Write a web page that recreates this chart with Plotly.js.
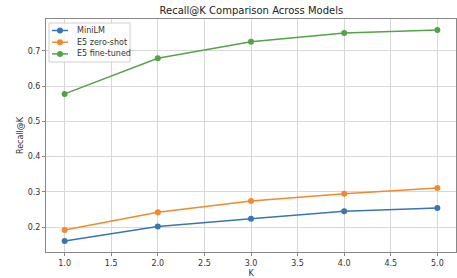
<!DOCTYPE html>
<html><head><meta charset="utf-8">
<script src="https://cdn.plot.ly/plotly-3.0.1.min.js"></script>
<style>html,body{margin:0;padding:0;background:#fff}#c{width:457px;height:278px}</style>
</head><body><div id="c"></div>
<script>
const K = [1, 2, 3, 4, 5];
const miniLM = [0.161, 0.202, 0.224, 0.245, 0.254];
const e5Zero = [0.192, 0.242, 0.274, 0.295, 0.311];
const e5Fine = [0.578, 0.679, 0.726, 0.751, 0.759];
const names = ["MiniLM", "E5 zero-shot", "E5 fine-tuned"];
const colors = ["#3a75b0", "#f08a2c", "#52a447"];
const series = [miniLM, e5Zero, e5Fine];
const traces = series.map((s, i) => ({
  x: K, y: s, name: names[i], type: "scatter", mode: "lines+markers",
  line: {color: colors[i], width: 1.5}, marker: {color: colors[i], size: 6}
}));
const W = 457, H = 278, M = {l: 46, r: 1, t: 19, b: 26};
const pw = W - M.l - M.r, ph = H - M.t - M.b;
const px = x => (x - M.l) / pw, py = y => 1 - (y - M.t) / ph;
const shapes = [{type: "rect", xref: "paper", yref: "paper", x0: px(49), x1: px(130), y0: py(23), y1: py(62),
  fillcolor: "rgba(255,255,255,0.85)", line: {color: "#d0d0d0", width: 1}}];
const annotations = [];
names.forEach((n, i) => {
  const yy = 30.5 + i * 11.7;
  shapes.push({type: "line", xref: "paper", yref: "paper", x0: px(52), x1: px(68), y0: py(yy), y1: py(yy), line: {color: colors[i], width: 1.5}});
  shapes.push({type: "circle", xref: "paper", yref: "paper", x0: px(57), x1: px(63), y0: py(yy - 3), y1: py(yy + 3), fillcolor: colors[i], line: {color: colors[i], width: 0}});
  annotations.push({xref: "paper", yref: "paper", x: px(75), y: py(yy), xanchor: "left", yanchor: "middle", showarrow: false, text: n,
    font: {family: "DejaVu Sans", size: 8, color: "#333"}});
});
const font = {family: "DejaVu Sans", size: 8, color: "#333"};
Plotly.newPlot("c", traces, {
  width: W, height: H, margin: M,
  paper_bgcolor: "#fff", plot_bgcolor: "#fff",
  font: font, showlegend: false, shapes: shapes, annotations: annotations,
  title: {text: "Recall@K Comparison Across Models", font: {family: "DejaVu Sans", size: 10, color: "#222"}, x: 0.55, xanchor: "center", y: 0.975, yanchor: "top"},
  xaxis: {range: [0.8, 5.2], tickvals: [1, 1.5, 2, 2.5, 3, 3.5, 4, 4.5, 5], ticktext: ["1.0","1.5","2.0","2.5","3.0","3.5","4.0","4.5","5.0"],
    showgrid: true, gridcolor: "#d8d8d8", gridwidth: 1, zeroline: false, showline: true, linecolor: "#888", mirror: true,
    ticks: "outside", ticklen: 3, tickcolor: "#888", tickfont: font,
    title: {text: "K", font: font, standoff: 4}},
  yaxis: {range: [0.1295, 0.7905], tickvals: [0.2, 0.3, 0.4, 0.5, 0.6, 0.7], ticktext: ["0.2","0.3","0.4","0.5","0.6","0.7"],
    showgrid: true, gridcolor: "#d8d8d8", gridwidth: 1, zeroline: false, showline: true, linecolor: "#888", mirror: true,
    ticks: "outside", ticklen: 3, tickcolor: "#888", tickfont: font,
    title: {text: "Recall@K", font: font, standoff: 2}}
}, {displayModeBar: false, staticPlot: true});
</script></body></html>
